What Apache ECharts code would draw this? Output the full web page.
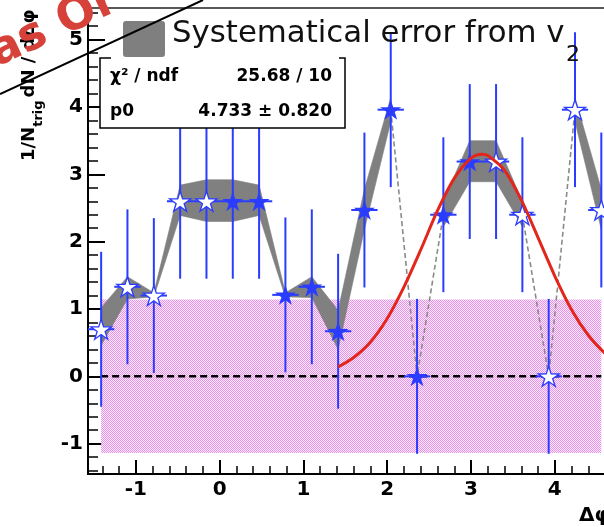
<!DOCTYPE html>
<html><head><meta charset="utf-8">
<script src="https://cdn.jsdelivr.net/npm/echarts/dist/echarts.min.js"></script>
<style>
html,body{margin:0;padding:0;overflow:hidden;background:#fff;width:604px;height:527px}
#c{width:620px;height:527px}
</style></head>
<body><div id="c"></div>
<script>
// ---- data ----
const binCenters = [-1.414, -1.100, -0.785, -0.471, -0.157, 0.157, 0.471, 0.785, 1.100, 1.414,
                    1.728, 2.042, 2.356, 2.670, 2.985, 3.299, 3.613, 3.927, 4.241, 4.555];
const yieldVals  = [0.70, 1.33, 1.20, 2.60, 2.60, 2.60, 2.60, 1.21, 1.33, 0.67,
                    2.47, 3.96, 0.00, 2.40, 3.19, 3.19, 2.40, 0.00, 3.96, 2.47];
const yieldErr   = [1.15, 1.15, 1.15, 1.15, 1.15, 1.15, 1.15, 1.15, 1.15, 1.15,
                    1.15, 1.15, 1.15, 1.15, 1.15, 1.15, 1.15, 1.15, 1.15, 1.15];
const binHalfWidth = 0.157;
const openMarker = [1,1,1,1,1,0,0,0,0,0, 0,0,0,0,0,1,1,1,1,1];
const sysLow  = [0.46, 1.15, 1.18, 2.39, 2.30, 2.30, 2.39, 1.18, 1.17, 0.40,
                 2.18, 3.78, 0.00, 2.22, 2.89, 2.89, 2.22, 0.00, 3.78, 2.18];
const sysHigh = [1.02, 1.48, 1.24, 2.84, 2.92, 2.92, 2.84, 1.24, 1.48, 0.98,
                 2.78, 4.14, 0.00, 2.60, 3.50, 3.50, 2.60, 0.00, 4.14, 2.78];
const bandPieces = [[0, 11], [13, 16], [18, 19]];
const dashedSegments = [[11, 12, 13], [16, 17, 18]];
const zeroSysLevel = 1.14;
const fitX = [1.414, 1.6, 1.8, 2.0, 2.2, 2.4, 2.6, 2.8, 3.0, 3.13, 3.2, 3.4, 3.6, 3.8, 4.0, 4.2, 4.4, 4.6, 4.71];
const fitY = [0.14, 0.28, 0.51, 0.86, 1.33, 1.88, 2.46, 2.94, 3.24, 3.30, 3.28, 3.06, 2.62, 2.06, 1.49, 0.99, 0.61, 0.34, 0.24];
const xMajorTicks = [-1, 0, 1, 2, 3, 4];
const yMajorTicks = [-1, 0, 1, 2, 3, 4, 5];
const legendText = 'Systematical error from v';
const statsRows = [['χ² / ndf', '25.68 / 10'], ['p0', '4.733 ± 0.820']];

// ---- helpers ----
const BLUE = '#2a3cff';
function minorList(a, b) {
  const out = [];
  for (let k = Math.round(a * 5); k <= Math.round(b * 5); k++) {
    if (k % 5 !== 0) out.push(+(k / 5).toFixed(1));
  }
  return out;
}
const xMinorTicks = minorList(-1.4, 4.6);
const yMinorTicks = minorList(-1.4, 5.4);

const pat = document.createElement('canvas');
pat.width = 2; pat.height = 2;
(function () {
  const g = pat.getContext('2d');
  g.fillStyle = '#fdeefd'; g.fillRect(0, 0, 2, 2);
  g.fillStyle = '#ec8eec'; g.fillRect(0, 0, 1, 1); g.fillRect(1, 1, 1, 1);
})();

const STAR = 'path://M50 0 L61.2 34.5 L97.55 34.55 L68.1 55.9 L79.39 90.45 L50 69 L20.61 90.45 L31.9 55.9 L2.45 34.55 L38.8 34.5 Z';

const filledPts = [], openPts = [];
binCenters.forEach((x, i) => (openMarker[i] ? openPts : filledPts).push([x, yieldVals[i]]));

const labelFont = { fontFamily: 'DejaVu Sans', fontWeight: 'bold', fontSize: 20, color: '#000' };

// y-axis title layout
const mctx = document.createElement('canvas').getContext('2d');
function tw(t, f) { mctx.font = f; return mctx.measureText(t).width; }
const fMain = 'bold 18px "DejaVu Sans"', fSub = 'bold 13px "DejaVu Sans"';
const t1 = '1/N', t2 = 'trig', t3 = 'dN / dΔφ';
const w1 = tw(t1, fMain), w2 = tw(t2, fSub);

const graphics = [
  // y-axis title
  { type: 'group', x: 29, y: 161, rotation: Math.PI / 2, z: 100, children: [
    { type: 'text', style: { text: t1, x: 0, y: 0, font: fMain, fill: '#000', align: 'left', verticalAlign: 'middle' } },
    { type: 'text', style: { text: t2, x: w1, y: 10, font: fSub, fill: '#000', align: 'left', verticalAlign: 'middle' } },
    { type: 'text', style: { text: t3, x: w1 + w2 + 3, y: 0, font: fMain, fill: '#000', align: 'left', verticalAlign: 'middle' } }
  ]},
  // x-axis title
  { type: 'text', z: 100, style: { text: 'Δφ', x: 579, y: 516, font: 'bold 20px "DejaVu Sans"', fill: '#000', align: 'left', verticalAlign: 'middle' } },
  // stats box
  { type: 'rect', z: 100, shape: { x: 100, y: 58, width: 245, height: 70 }, style: { fill: '#fff' } },
  { type: 'polyline', z: 101, shape: { points: [[111, 58], [100, 58], [100, 128], [345, 128], [345, 58], [339, 58]] }, style: { stroke: '#000', lineWidth: 1.5, fill: null } },
  { type: 'text', z: 101, style: { text: statsRows[0][0], x: 110, y: 77, font: 'bold 17px "DejaVu Sans"', fill: '#000', align: 'left', verticalAlign: 'middle' } },
  { type: 'text', z: 101, style: { text: statsRows[0][1], x: 332, y: 77, font: 'bold 17px "DejaVu Sans"', fill: '#000', align: 'right', verticalAlign: 'middle' } },
  { type: 'text', z: 101, style: { text: statsRows[1][0], x: 110, y: 112, font: 'bold 17px "DejaVu Sans"', fill: '#000', align: 'left', verticalAlign: 'middle' } },
  { type: 'text', z: 101, style: { text: statsRows[1][1], x: 332, y: 112, font: 'bold 17px "DejaVu Sans"', fill: '#000', align: 'right', verticalAlign: 'middle' } },
  // legend
  { type: 'rect', z: 102, shape: { x: 123, y: 21, width: 42, height: 36, r: 3 }, style: { fill: '#7f7f7f' } },
  { type: 'text', z: 102, style: { text: legendText, x: 172, y: 34, font: '30.8px "DejaVu Sans"', fill: '#111', align: 'left', verticalAlign: 'middle' } },
  { type: 'text', z: 102, style: { text: '2', x: 566, y: 55, font: '22px "DejaVu Sans"', fill: '#111', align: 'left', verticalAlign: 'middle' } },
  // stamp
  { type: 'line', z: 110, shape: { x1: 0, y1: 94, x2: 203, y2: 0 }, style: { stroke: '#000', lineWidth: 2 } },
  { type: 'text', z: 110, x: -8, y: 56, rotation: 25 * Math.PI / 180, style: { text: 'as Or', x: 0, y: 0, font: 'bold 46px "DejaVu Sans"', fill: '#d6423a', align: 'left', verticalAlign: 'middle' } }
];

const series = [
  // zero-level systematic band (hatched magenta)
  { type: 'custom', z: 1, clip: true, silent: true,
    data: [[binCenters[0], -zeroSysLevel, binCenters[binCenters.length - 1], zeroSysLevel]],
    encode: { x: [0, 2], y: [1, 3] },
    renderItem: (params, api) => {
      const p1 = api.coord([api.value(0), api.value(3)]);
      const p2 = api.coord([api.value(2), api.value(1)]);
      return { type: 'rect', shape: { x: p1[0], y: p1[1], width: p2[0] - p1[0], height: p2[1] - p1[1] },
               style: { fill: { image: pat, repeat: 'repeat' } } };
    } },
  // v2 systematic band
  { type: 'custom', z: 2, clip: true, silent: true,
    data: bandPieces.map(p => [binCenters[p[0]], sysLow[p[0]]]),
    renderItem: (params, api) => {
      const [a, b] = bandPieces[params.dataIndex];
      const pts = [];
      for (let i = a; i <= b; i++) pts.push(api.coord([binCenters[i], sysHigh[i]]));
      for (let i = b; i >= a; i--) pts.push(api.coord([binCenters[i], sysLow[i]]));
      return { type: 'polygon', shape: { points: pts }, style: { fill: '#808080', stroke: '#808080', lineWidth: 0.6 } };
    } },
  ...dashedSegments.map(seg => ({
    type: 'line', z: 2, symbol: 'none', silent: true,
    data: seg.map(i => [binCenters[i], yieldVals[i]]),
    lineStyle: { color: '#8a8a8a', width: 1.6, type: [5, 3] }
  })),
  // zero line
  { type: 'line', z: 3, symbol: 'none', silent: true,
    data: [[binCenters[0], 0], [binCenters[binCenters.length - 1], 0]],
    lineStyle: { color: '#000', width: 2.5, type: [7, 4] } },
  // error bars
  { type: 'custom', z: 4, clip: true, silent: true,
    data: binCenters.map((x, i) => [x, yieldVals[i], yieldErr[i]]),
    encode: { x: 0, y: 1 },
    renderItem: (params, api) => {
      const x = api.value(0), y = api.value(1), e = api.value(2);
      const t = api.coord([x, y + e]), b = api.coord([x, y - e]);
      const l = api.coord([x - binHalfWidth, y]), r = api.coord([x + binHalfWidth, y]);
      const st = { stroke: BLUE, lineWidth: 2 };
      return { type: 'group', children: [
        { type: 'line', shape: { x1: t[0], y1: t[1], x2: b[0], y2: b[1] }, style: st },
        { type: 'line', shape: { x1: l[0], y1: l[1], x2: r[0], y2: r[1] }, style: st }
      ] };
    } },
  // stars
  { type: 'scatter', z: 5, symbol: STAR, symbolSize: [21, 20], data: filledPts,
    itemStyle: { color: BLUE, opacity: 1 } },
  { type: 'scatter', z: 5, symbol: STAR, symbolSize: [21, 20], data: openPts,
    itemStyle: { color: '#fff', borderColor: BLUE, borderWidth: 1.3, opacity: 1 } },
  // fit curve
  { type: 'line', z: 6, symbol: 'none', smooth: 0.3, silent: true,
    data: fitX.map((x, i) => [x, fitY[i]]),
    lineStyle: { color: '#e3261c', width: 3 } }
];

const axCommon = { type: 'value', splitLine: { show: false } };
const chart = echarts.init(document.getElementById('c'), null, { renderer: 'canvas' });
chart.setOption({
  animation: false,
  backgroundColor: '#fff',
  grid: { left: 88, top: 8, width: 526.5, height: 466, show: true, borderColor: '#222', borderWidth: 1.5, containLabel: false },
  xAxis: [
    { ...axCommon, min: -Math.PI / 2, max: 1.5 * Math.PI, position: 'bottom',
      axisLine: { show: true, onZero: false, lineStyle: { color: '#000', width: 2 } },
      axisTick: { show: true, inside: true, length: 14, customValues: xMajorTicks, lineStyle: { color: '#000', width: 2 } },
      axisLabel: { show: true, customValues: xMajorTicks, margin: 6, ...labelFont } },
    { ...axCommon, min: -Math.PI / 2, max: 1.5 * Math.PI, position: 'bottom', offset: 0,
      axisLine: { show: false, onZero: false },
      axisTick: { show: true, inside: true, length: 8, customValues: xMinorTicks, lineStyle: { color: '#000', width: 1.5 } },
      axisLabel: { show: false } }
  ],
  yAxis: [
    { ...axCommon, min: -1.45, max: 5.47, position: 'left',
      axisLine: { show: true, onZero: false, lineStyle: { color: '#000', width: 2 } },
      axisTick: { show: true, inside: true, length: 17, customValues: yMajorTicks, lineStyle: { color: '#000', width: 2 } },
      axisLabel: { show: true, customValues: yMajorTicks, margin: 5, ...labelFont } },
    { ...axCommon, min: -1.45, max: 5.47, position: 'left', offset: 0,
      axisLine: { show: false, onZero: false },
      axisTick: { show: true, inside: true, length: 10, customValues: yMinorTicks, lineStyle: { color: '#000', width: 1.5 } },
      axisLabel: { show: false } }
  ],
  series: series,
  graphic: graphics
});
</script>
</body></html>
